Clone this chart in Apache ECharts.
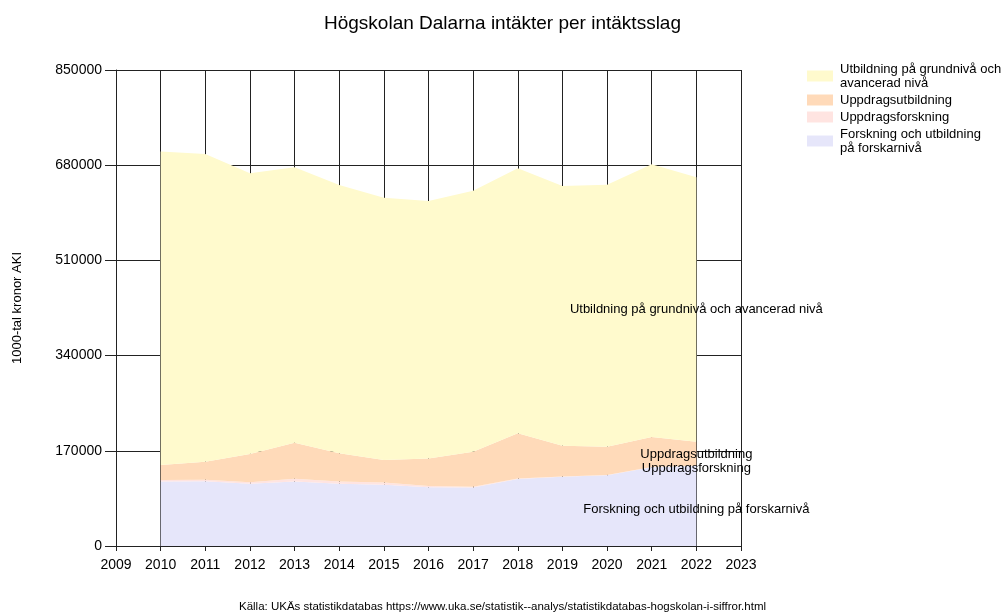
<!DOCTYPE html>
<html>
<head>
<meta charset="utf-8">
<script src="https://cdn.jsdelivr.net/npm/echarts@6/dist/echarts.min.js"></script>
<style>
  html, body { margin: 0; padding: 0; background: #fff; }
  #chart { width: 1005px; height: 615px; }
</style>
</head>
<body>
<div id="chart"></div>
<script>
  // år och intäkter (1000-tal kronor)
  const axisYears = ['2009', '2010', '2011', '2012', '2013', '2014', '2015', '2016', '2017', '2018', '2019', '2020', '2021', '2022', '2023'];
  const years = ['2010', '2011', '2012', '2013', '2014', '2015', '2016', '2017', '2018', '2019', '2020', '2021', '2022'];
  const forskning = [115000, 115500, 111000, 115000, 111000, 109500, 105000, 104500, 119500, 123500, 126500, 140500, 143000];
  const uppdragsforskning = [3000, 3000, 3000, 5000, 4000, 4000, 2000, 1500, 1000, 500, 500, 500, 500];
  const uppdragsutbildning = [26600, 32100, 50300, 64500, 50500, 40100, 49300, 62500, 80700, 55200, 50400, 53600, 42800];
  const grundniva = [559900, 549400, 501200, 491700, 479100, 468400, 459700, 466000, 473200, 463700, 467800, 487000, 472100];
  const yTicks = [0, 170000, 340000, 510000, 680000, 850000];

  const names = {
    grund: 'Utbildning på grundnivå och\navancerad nivå',
    uppUtb: 'Uppdragsutbildning',
    uppFor: 'Uppdragsforskning',
    forsk: 'Forskning och utbildning\npå forskarnivå',
  };

  const font = 'Liberation Sans, Arial, sans-serif';
  const lineCol = '#222';

  // lägg serien på hela axeln, tomt där år saknas
  function onAxis(arr) {
    return axisYears.map(y => {
      const i = years.indexOf(y);
      return i < 0 ? '-' : arr[i];
    });
  }

  // etiketter mitt i varje band vid sista året
  const last = years.length - 1;
  const b1 = forskning[last];
  const b2 = b1 + uppdragsforskning[last];
  const b3 = b2 + uppdragsutbildning[last];
  const b4 = b3 + grundniva[last];
  const labelData = [
    { value: [years[last], (b3 + b4) / 2], name: 'Utbildning på grundnivå och avancerad nivå' },
    { value: [years[last], (b2 + b3) / 2], name: 'Uppdragsutbildning', yOff: 1 },
    { value: [years[last], (b1 + b2) / 2], name: 'Uppdragsforskning', yOff: 3 },
    { value: [years[last], b1 / 2], name: 'Forskning och utbildning på forskarnivå', yOff: 3 },
  ].map(d => ({
    value: d.value,
    name: d.name,
    label: { offset: [0, d.yOff || 0] },
  }));

  function area(name, data, color) {
    return {
      name: name,
      type: 'line',
      stack: 'total',
      data: onAxis(data),
      showSymbol: false,
      symbol: 'none',
      lineStyle: { width: 0, color: color },
      areaStyle: { color: color, opacity: 1 },
      itemStyle: { color: color },
      silent: true,
      z: 2,
    };
  }

  const chart = echarts.init(document.getElementById('chart'));
  chart.setOption({
    animation: false,
    backgroundColor: '#fff',
    textStyle: { fontFamily: font },
    title: {
      text: 'Högskolan Dalarna intäkter per intäktsslag',
      left: 'center',
      top: 9,
      textStyle: { fontFamily: font, fontSize: 19, fontWeight: 'normal', color: '#000' },
    },
    legend: {
      orient: 'vertical',
      left: 807,
      top: 62,
      padding: 0,
      itemWidth: 26,
      itemHeight: 11,
      itemGap: 3,
      icon: 'rect',
      data: [names.grund, names.uppUtb, names.uppFor, names.forsk],
      textStyle: { fontFamily: font, fontSize: 13, color: '#000', lineHeight: 14, padding: [0, 0, 0, 2] },
      selectedMode: false,
    },
    grid: { left: 116, right: 264, top: 70, bottom: 69, outerBoundsMode: 'none', containLabel: false },
    xAxis: {
      type: 'category',
      data: axisYears,
      boundaryGap: false,
      axisLine: { show: true, lineStyle: { color: lineCol, width: 1 } },
      axisTick: { show: true, length: 5, interval: 0, lineStyle: { color: lineCol } },
      axisLabel: { color: '#000', fontSize: 14, margin: 12, interval: 0 },
      splitLine: { show: true, interval: 0, lineStyle: { color: lineCol, width: 1 } },
    },
    yAxis: {
      type: 'value',
      min: yTicks[0],
      max: yTicks[yTicks.length - 1],
      interval: yTicks[1] - yTicks[0],
      name: '1000-tal kronor AKI',
      nameLocation: 'middle',
      nameRotate: 90,
      nameGap: 92,
      nameTextStyle: { fontFamily: font, fontSize: 13, color: '#000' },
      axisLine: { show: true, lineStyle: { color: lineCol, width: 1 } },
      axisTick: { show: true, length: 11, lineStyle: { color: lineCol } },
      axisLabel: { color: '#000', fontSize: 14, margin: 14, formatter: v => String(v) },
      splitLine: { show: true, lineStyle: { color: lineCol, width: 1 } },
    },
    graphic: [
      {
        type: 'text',
        left: 'center',
        top: 601,
        style: {
          text: 'Källa: UKÄs statistikdatabas https://www.uka.se/statistik--analys/statistikdatabas-hogskolan-i-siffror.html',
          fontFamily: font,
          fontSize: 11.5,
          fill: '#000',
        },
      },
    ],
    series: [
      area(names.forsk, forskning, '#E6E6FA'),
      area(names.uppFor, uppdragsforskning, '#FFE4E1'),
      area(names.uppUtb, uppdragsutbildning, '#FFDAB9'),
      area(names.grund, grundniva, '#FFFACD'),
      {
        name: 'etiketter',
        type: 'scatter',
        data: labelData,
        symbolSize: 1,
        itemStyle: { color: 'rgba(0,0,0,0)' },
        silent: true,
        z: 5,
        label: {
          show: true,
          position: 'inside',
          formatter: p => p.name,
          color: '#000',
          textBorderWidth: 0,
          opacity: 1,
          fontFamily: font,
          fontSize: 13,
        },
      },
    ],
  });
</script>
</body>
</html>
